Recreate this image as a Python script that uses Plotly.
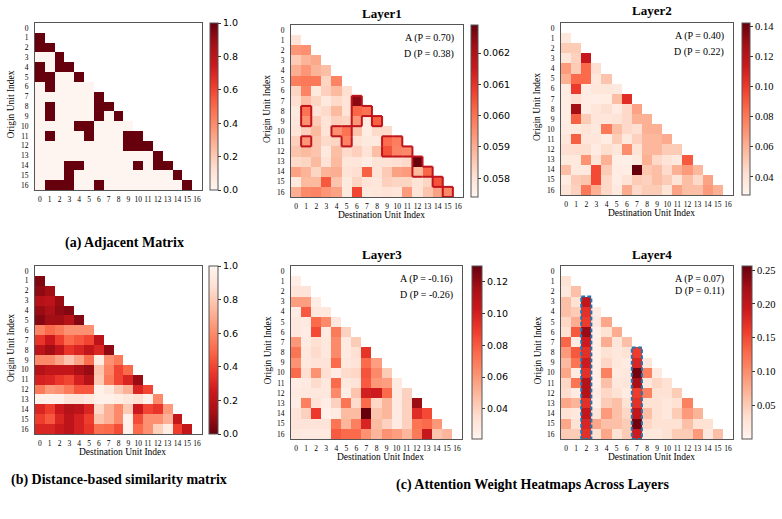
import plotly.graph_objects as go

W, H = 782, 519
N = 17
tick_labels = [str(i) for i in range(N)]

# ---------------- data (lower-triangular rows, row i has i values) ----------------
adjacent_rows = [
    [],
    [1],
    [1, 1],
    [0, 0, 1],
    [1, 0, 1, 1],
    [1, 1, 0, 0, 1],
    [0, 1, 0, 0, 0, 0],
    [0, 0, 0, 0, 0, 0, 1],
    [0, 1, 0, 0, 0, 0, 1, 1],
    [0, 1, 0, 0, 0, 0, 1, 0, 1],
    [0, 0, 0, 0, 1, 1, 0, 0, 0, 0],
    [0, 1, 0, 0, 0, 1, 0, 0, 0, 1, 1],
    [0, 0, 0, 0, 0, 0, 0, 0, 0, 1, 1, 1],
    [0, 0, 0, 0, 0, 0, 0, 0, 0, 0, 0, 0, 1],
    [0, 0, 0, 1, 1, 0, 0, 0, 0, 0, 1, 0, 1, 1],
    [0, 0, 0, 1, 0, 0, 0, 0, 0, 0, 0, 0, 0, 0, 1],
    [0, 1, 1, 1, 0, 0, 1, 0, 0, 0, 0, 0, 0, 0, 0, 1],
]

distance_rows = [
    [],
    [0.05],
    [0.08, 0.12],
    [0.18, 0.20, 0.10],
    [0.10, 0.15, 0.08, 0.06],
    [0.06, 0.12, 0.12, 0.18, 0.06],
    [0.58, 0.50, 0.55, 0.62, 0.62, 0.62],
    [0.35, 0.25, 0.38, 0.50, 0.45, 0.40, 0.20],
    [0.20, 0.12, 0.22, 0.35, 0.30, 0.22, 0.30, 0.08],
    [0.60, 0.60, 0.68, 0.78, 0.68, 0.52, 0.95, 0.62, 0.55],
    [0.18, 0.22, 0.22, 0.22, 0.15, 0.10, 0.78, 0.58, 0.40, 0.50],
    [0.28, 0.30, 0.36, 0.40, 0.28, 0.18, 0.80, 0.55, 0.40, 0.30, 0.10],
    [0.55, 0.65, 0.62, 0.55, 0.45, 0.45, 0.97, 0.92, 0.80, 0.72, 0.30, 0.40],
    [0.97, 0.97, 0.97, 0.90, 0.90, 0.93, 0.97, 0.97, 0.95, 0.92, 0.88, 0.97, 0.60],
    [0.30, 0.38, 0.25, 0.18, 0.20, 0.30, 0.85, 0.72, 0.60, 0.80, 0.25, 0.40, 0.35, 0.65],
    [0.38, 0.45, 0.30, 0.20, 0.28, 0.38, 0.78, 0.72, 0.60, 0.97, 0.42, 0.62, 0.62, 0.72, 0.22],
    [0.30, 0.30, 0.25, 0.20, 0.28, 0.35, 0.52, 0.50, 0.42, 0.97, 0.50, 0.62, 0.82, 0.95, 0.38, 0.22],
]

layer1_rows = [
    [],
    [0.0580],
    [0.0594, 0.0595],
    [0.0585, 0.0589, 0.0591],
    [0.0590, 0.0594, 0.0589, 0.0587],
    [0.0598, 0.0599, 0.0599, 0.0583, 0.0597],
    [0.0583, 0.0597, 0.0578, 0.0584, 0.0588, 0.0581],
    [0.0581, 0.0587, 0.0583, 0.0578, 0.0582, 0.0580, 0.0625],
    [0.0578, 0.0600, 0.0580, 0.0582, 0.0588, 0.0580, 0.0602, 0.0600],
    [0.0579, 0.0595, 0.0585, 0.0580, 0.0584, 0.0583, 0.0594, 0.0577, 0.0603],
    [0.0580, 0.0584, 0.0588, 0.0580, 0.0595, 0.0600, 0.0586, 0.0577, 0.0582, 0.0582],
    [0.0584, 0.0594, 0.0586, 0.0582, 0.0583, 0.0597, 0.0580, 0.0578, 0.0578, 0.0601, 0.0598],
    [0.0586, 0.0588, 0.0586, 0.0578, 0.0587, 0.0582, 0.0584, 0.0580, 0.0587, 0.0605, 0.0597, 0.0596],
    [0.0582, 0.0583, 0.0588, 0.0580, 0.0588, 0.0579, 0.0579, 0.0577, 0.0580, 0.0580, 0.0581, 0.0582, 0.0629],
    [0.0592, 0.0589, 0.0583, 0.0589, 0.0590, 0.0580, 0.0581, 0.0603, 0.0580, 0.0585, 0.0592, 0.0593, 0.0588, 0.0602],
    [0.0578, 0.0588, 0.0588, 0.0604, 0.0586, 0.0578, 0.0583, 0.0580, 0.0579, 0.0584, 0.0583, 0.0583, 0.0580, 0.0583, 0.0605],
    [0.0590, 0.0596, 0.0597, 0.0594, 0.0592, 0.0578, 0.0607, 0.0578, 0.0579, 0.0580, 0.0579, 0.0593, 0.0580, 0.0586, 0.0592, 0.0596],
]

layer2_rows = [
    [],
    [0.037],
    [0.050, 0.050],
    [0.038, 0.048, 0.115],
    [0.068, 0.050, 0.085, 0.042],
    [0.060, 0.085, 0.085, 0.037, 0.053],
    [0.035, 0.100, 0.034, 0.038, 0.038, 0.036],
    [0.034, 0.042, 0.034, 0.033, 0.034, 0.055, 0.105],
    [0.034, 0.128, 0.034, 0.038, 0.042, 0.035, 0.045, 0.065],
    [0.034, 0.088, 0.050, 0.038, 0.038, 0.040, 0.045, 0.060, 0.060],
    [0.035, 0.036, 0.040, 0.036, 0.080, 0.055, 0.045, 0.042, 0.060, 0.060],
    [0.038, 0.088, 0.038, 0.038, 0.034, 0.050, 0.036, 0.048, 0.058, 0.058, 0.062],
    [0.042, 0.043, 0.043, 0.035, 0.043, 0.038, 0.072, 0.040, 0.058, 0.058, 0.050, 0.050],
    [0.036, 0.036, 0.070, 0.040, 0.060, 0.033, 0.033, 0.036, 0.060, 0.045, 0.040, 0.036, 0.090],
    [0.055, 0.036, 0.036, 0.095, 0.050, 0.034, 0.034, 0.142, 0.052, 0.055, 0.044, 0.060, 0.068, 0.058],
    [0.035, 0.050, 0.053, 0.095, 0.045, 0.034, 0.040, 0.050, 0.048, 0.055, 0.050, 0.040, 0.055, 0.045, 0.065],
    [0.040, 0.048, 0.080, 0.060, 0.045, 0.036, 0.062, 0.045, 0.050, 0.050, 0.040, 0.065, 0.055, 0.055, 0.068, 0.060],
]

layer3_rows = [
    [],
    [0.026],
    [0.032, 0.032],
    [0.058, 0.058, 0.026],
    [0.026, 0.080, 0.030, 0.030],
    [0.030, 0.028, 0.075, 0.065, 0.030],
    [0.030, 0.026, 0.085, 0.028, 0.070, 0.040],
    [0.060, 0.028, 0.034, 0.030, 0.065, 0.028, 0.042],
    [0.072, 0.030, 0.036, 0.030, 0.065, 0.028, 0.034, 0.092],
    [0.062, 0.030, 0.032, 0.032, 0.075, 0.030, 0.032, 0.075, 0.058],
    [0.075, 0.035, 0.062, 0.035, 0.026, 0.036, 0.038, 0.082, 0.065, 0.042],
    [0.026, 0.028, 0.036, 0.030, 0.075, 0.030, 0.032, 0.080, 0.060, 0.058, 0.028],
    [0.028, 0.030, 0.030, 0.030, 0.065, 0.026, 0.045, 0.100, 0.102, 0.075, 0.028, 0.040],
    [0.026, 0.068, 0.032, 0.026, 0.040, 0.072, 0.036, 0.075, 0.038, 0.050, 0.028, 0.040, 0.118],
    [0.032, 0.040, 0.090, 0.024, 0.028, 0.048, 0.048, 0.130, 0.045, 0.050, 0.028, 0.040, 0.095, 0.085],
    [0.032, 0.032, 0.032, 0.032, 0.072, 0.050, 0.068, 0.098, 0.048, 0.040, 0.028, 0.040, 0.072, 0.075, 0.060],
    [0.030, 0.028, 0.028, 0.028, 0.080, 0.075, 0.075, 0.062, 0.050, 0.062, 0.058, 0.050, 0.070, 0.105, 0.045, 0.050],
]

layer4_rows = [
    [],
    [0.030],
    [0.020, 0.060],
    [0.060, 0.030, 0.200],
    [0.060, 0.050, 0.170, 0.015],
    [0.040, 0.075, 0.160, 0.020, 0.080],
    [0.030, 0.140, 0.230, 0.010, 0.030, 0.075],
    [0.130, 0.015, 0.190, 0.010, 0.075, 0.025, 0.060],
    [0.090, 0.140, 0.170, 0.010, 0.030, 0.020, 0.030, 0.160],
    [0.065, 0.120, 0.190, 0.010, 0.040, 0.020, 0.015, 0.180, 0.020],
    [0.080, 0.015, 0.170, 0.010, 0.110, 0.015, 0.020, 0.250, 0.110, 0.015],
    [0.040, 0.120, 0.210, 0.010, 0.060, 0.020, 0.025, 0.220, 0.020, 0.040, 0.030],
    [0.035, 0.015, 0.210, 0.015, 0.040, 0.030, 0.015, 0.160, 0.110, 0.030, 0.030, 0.050],
    [0.080, 0.070, 0.170, 0.010, 0.050, 0.060, 0.030, 0.170, 0.030, 0.030, 0.020, 0.030, 0.110],
    [0.030, 0.020, 0.200, 0.025, 0.090, 0.060, 0.040, 0.200, 0.060, 0.030, 0.020, 0.050, 0.090, 0.070],
    [0.080, 0.030, 0.180, 0.080, 0.060, 0.060, 0.050, 0.250, 0.040, 0.030, 0.030, 0.030, 0.060, 0.030, 0.030],
    [0.050, 0.050, 0.170, 0.030, 0.080, 0.030, 0.050, 0.190, 0.020, 0.020, 0.030, 0.050, 0.050, 0.090, 0.020, 0.060],
]

layer_names = ["Layer1", "Layer2", "Layer3", "Layer4"]
a_p = [0.70, 0.40, -0.16, 0.07]
d_p = [0.38, 0.22, -0.26, 0.11]

# cells (row, col) outlined in Layer1
layer1_outline_cells = [
    (7, 6), (8, 6), (8, 7), (9, 6), (9, 8),
    (8, 1), (9, 1), (11, 1),
    (10, 4), (10, 5), (11, 5),
    (11, 9), (11, 10), (12, 9), (12, 10), (12, 11),
    (13, 12), (14, 12), (14, 13), (15, 14), (16, 15),
]
# columns highlighted in Layer4: (column, first row, last row)
layer4_columns = [(2, 3, 16), (7, 8, 16)]

captions = ["(a) Adjacent Matrix", "(b) Distance-based similarity matrix",
            "(c) Attention Weight Heatmaps Across Layers"]

# ---------------- styling ----------------
REDS = ['#fff5f0', '#fee0d2', '#fcbba1', '#fc9272', '#fb6a4a',
        '#ef3b2c', '#cb181d', '#a50f15', '#67000d']
reds = [[i / 8, c] for i, c in enumerate(REDS)]
reds_r = [[i / 8, c] for i, c in enumerate(REDS[::-1])]
SERIF = "Liberation Serif, Times New Roman, serif"
SANS = "DejaVu Sans, sans-serif"


def to_matrix(rows):
    z = [[None] * N for _ in range(N)]
    for i, row in enumerate(rows):
        for j, v in enumerate(row):
            z[i][j] = v
    return z


panels = [
    dict(rows=adjacent_rows, cs=reds, zmin=0.0, zmax=1.0,
         tv=[0, 0.2, 0.4, 0.6, 0.8, 1.0], tf=".1f", cbfont=(SANS, 9.5),
         box=(35, 202, 23, 190), cb=(210, 8, 23, 190), xtitle=False),
    dict(rows=layer1_rows, cs=reds, zmin=0.0574, zmax=0.0629,
         tv=[0.058, 0.059, 0.060, 0.061, 0.062], tf=".3f", cbfont=(SANS, 9.5),
         box=(291, 463, 25, 197), cb=(471, 7, 25, 197), xtitle=True),
    dict(rows=layer2_rows, cs=reds, zmin=0.028, zmax=0.142,
         tv=[0.04, 0.06, 0.08, 0.10, 0.12, 0.14], tf=".2f", cbfont=(SERIF, 10.5),
         box=(561, 733, 23, 195), cb=(742, 8, 23, 195), xtitle=True),
    dict(rows=distance_rows, cs=reds_r, zmin=0.0, zmax=1.0,
         tv=[0, 0.2, 0.4, 0.6, 0.8, 1.0], tf=".1f", cbfont=(SANS, 9.5),
         box=(35, 202, 266, 434), cb=(209, 9, 266, 434), xtitle=True),
    dict(rows=layer3_rows, cs=reds, zmin=0.021, zmax=0.130,
         tv=[0.04, 0.06, 0.08, 0.10, 0.12], tf=".2f", cbfont=(SANS, 9.5),
         box=(291, 462, 266, 439), cb=(472, 10, 266, 439), xtitle=True),
    dict(rows=layer4_rows, cs=reds, zmin=0.0004, zmax=0.256,
         tv=[0.05, 0.10, 0.15, 0.20, 0.25], tf=".2f", cbfont=(SERIF, 10.5),
         box=(561, 733, 266, 439), cb=(742, 10, 266, 439), xtitle=True),
]

fig = go.Figure()
annotations = []
shapes = []


def sfx(k):
    return "" if k == 1 else str(k)


for k, p in enumerate(panels, start=1):
    l, r, t, b = p["box"]
    cx, cw, ct, cbm = p["cb"]
    fam, fsz = p["cbfont"]
    fig.add_trace(go.Heatmap(
        z=to_matrix(p["rows"]), x=list(range(N)), y=list(range(N)),
        colorscale=p["cs"], zmin=p["zmin"], zmax=p["zmax"],
        xaxis="x" + sfx(k), yaxis="y" + sfx(k), hoverongaps=False,
        colorbar=dict(
            x=cx / W, xanchor="left", xpad=0, y=1 - ct / H, yanchor="top", ypad=0,
            len=cbm - ct, lenmode="pixels", thickness=cw, thicknessmode="pixels",
            outlinewidth=1, outlinecolor="#555555",
            ticks="outside", ticklen=3, tickwidth=1, tickcolor="#333333",
            tickvals=p["tv"], tickformat=p["tf"],
            tickfont=dict(family=fam, size=fsz, color="black"),
        ),
    ))
    axcommon = dict(showgrid=False, zeroline=False, showline=True, mirror=True,
                    linecolor="#555555", linewidth=1, ticks="",
                    tickvals=list(range(N)), ticktext=tick_labels,
                    tickfont=dict(family=SERIF, size=7.5, color="black"),
                    fixedrange=True)
    fig.update_layout(**{
        "xaxis" + sfx(k): dict(domain=[l / W, r / W], range=[-0.5, N - 0.5],
                               anchor="y" + sfx(k), ticklabelstandoff=2, **axcommon),
        "yaxis" + sfx(k): dict(domain=[1 - b / H, 1 - t / H], range=[N - 0.5, -0.5],
                               anchor="x" + sfx(k), ticklabelstandoff=4, **axcommon),
    })
    cxm = (l + r) / 2
    cym = (t + b) / 2
    # y-axis title
    annotations.append(dict(text="Origin Unit Index", x=(l - 24) / W, y=1 - (cym - 2) / H,
                            xref="paper", yref="paper", textangle=-90, showarrow=False,
                            font=dict(family=SERIF, size=9.5, color="black"),
                            xanchor="center", yanchor="middle"))
    if p["xtitle"]:
        annotations.append(dict(text="Destination Unit Index", x=(cxm + 4) / W,
                                y=1 - (b + 18) / H, xref="paper", yref="paper",
                                showarrow=False, xanchor="center", yanchor="middle",
                                font=dict(family=SERIF, size=9.5, color="black")))

# layer titles and A/D annotations
layer_panel_idx = [2, 3, 5, 6]
for li, k in enumerate(layer_panel_idx):
    l, r, t, b = panels[k - 1]["box"]
    annotations.append(dict(text="<b>%s</b>" % layer_names[li], x=((l + r) / 2 + 5) / W,
                            y=1 - (t - 12) / H, xref="paper", yref="paper",
                            showarrow=False, xanchor="center", yanchor="middle",
                            font=dict(family=SERIF, size=13, color="black")))
    dy = 16 if li < 3 else 12
    annotations.append(dict(text="A (P = %.2f)" % a_p[li], x=(r - 7) / W,
                            y=1 - (t + 13) / H, xref="paper", yref="paper",
                            showarrow=False, xanchor="right", yanchor="middle",
                            font=dict(family=SERIF, size=10, color="black")))
    annotations.append(dict(text="D (P = %.2f)" % d_p[li], x=(r - 7) / W,
                            y=1 - (t + 13 + dy) / H, xref="paper", yref="paper",
                            showarrow=False, xanchor="right", yanchor="middle",
                            font=dict(family=SERIF, size=10, color="black")))

# captions
cap_pos = [(124, 243), (119, 480), (532, 485)]
for text, (cx, cy) in zip(captions, cap_pos):
    annotations.append(dict(text="<b>%s</b>" % text, x=cx / W, y=1 - cy / H,
                            xref="paper", yref="paper", showarrow=False,
                            xanchor="center", yanchor="middle",
                            font=dict(family=SERIF, size=14, color="black")))

# Layer1 outlines derived from the outlined cell list
cells = set(layer1_outline_cells)
ox, oy = [], []
for (rr, cc) in sorted(cells):
    if (rr - 1, cc) not in cells:
        ox += [cc - 0.5, cc + 0.5, None]; oy += [rr - 0.5, rr - 0.5, None]
    if (rr + 1, cc) not in cells:
        ox += [cc - 0.5, cc + 0.5, None]; oy += [rr + 0.5, rr + 0.5, None]
    if (rr, cc - 1) not in cells:
        ox += [cc - 0.5, cc - 0.5, None]; oy += [rr - 0.5, rr + 0.5, None]
    if (rr, cc + 1) not in cells:
        ox += [cc + 0.5, cc + 0.5, None]; oy += [rr - 0.5, rr + 0.5, None]
fig.add_trace(go.Scatter(x=ox, y=oy, mode="lines", xaxis="x2", yaxis="y2",
                         line=dict(color="#c0141c", width=2), hoverinfo="skip",
                         showlegend=False))

# Layer4 dashed column boxes
for (col, r0, r1) in layer4_columns:
    shapes.append(dict(type="rect", xref="x6", yref="y6",
                       x0=col - 0.5, x1=col + 0.5, y0=r0 - 0.5, y1=r1 + 0.5,
                       line=dict(color="#1f77b4", width=2, dash="4px,2px")))

fig.update_layout(width=W, height=H, autosize=False,
                  margin=dict(l=0, r=0, t=0, b=0),
                  paper_bgcolor="white", plot_bgcolor="white",
                  showlegend=False, annotations=annotations, shapes=shapes,
                  font=dict(family=SERIF, color="black"))

fig.write_html("out.html")
